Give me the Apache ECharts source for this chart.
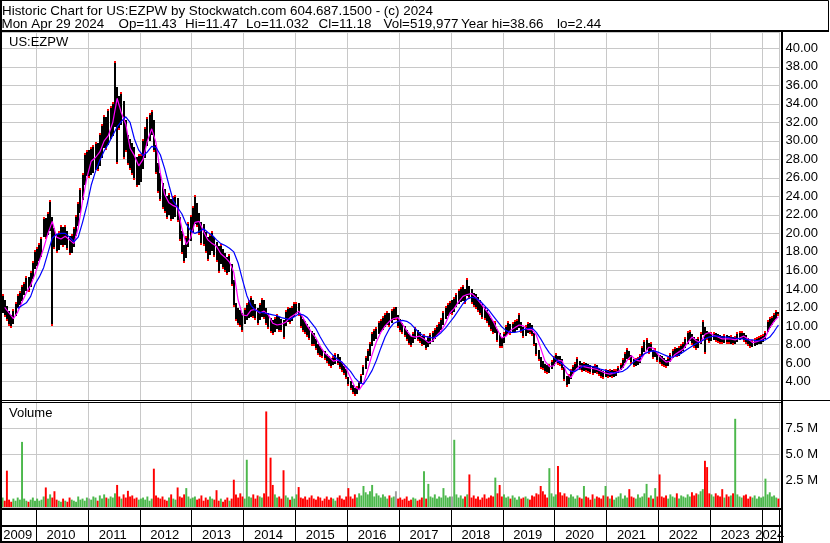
<!DOCTYPE html>
<html><head><meta charset="utf-8">
<script src="https://cdn.jsdelivr.net/npm/echarts@6.0.0/dist/echarts.min.js"></script>
<style>html,body{margin:0;padding:0;background:#fff}#c{width:830px;height:543px}</style>
</head><body><div id="c"></div>
<script>
// ---------- data (semi-monthly periods, May 2009 .. Apr 2024) ----------
const startYear = 2009, startMonth = 5;
const yearLabels = ['2009','2010','2011','2012','2013','2014','2015','2016','2017','2018','2019','2020','2021','2022','2023','2024'];
const headerLine1 = 'Historic Chart for US:EZPW by Stockwatch.com 604.687.1500 - (c) 2024';
const headerFields = ['Mon Apr 29 2024', 'Op=11.43', 'Hi=11.47', 'Lo=11.032', 'Cl=11.18', 'Vol=519,977', 'Year hi=38.66', 'lo=2.44'];
const symbolLabel = 'US:EZPW';
const volumeLabel = 'Volume';

const hi = [
13.4,12.8,12.2,11.6,11.2,11.8,12.6,13.4,13.8,14.4,14.8,15.4,15.3,15.9,17.0,18.2,
18.5,19.0,19.6,21.8,21.7,22.3,23.6,21.8,20.6,19.9,20.3,20.9,20.7,20.9,20.3,19.7,19.9,20.7,22.0,23.4,24.9,26.5,28.7,29.0,
29.0,29.3,29.6,29.9,29.8,30.8,31.8,32.8,32.6,33.4,33.8,34.2,38.66,35.8,34.8,35.3,34.3,32.3,30.6,30.2,29.8,29.3,28.3,28.6,
28.6,30.2,31.5,32.6,33.0,33.3,32.2,29.6,27.6,26.5,25.4,24.8,24.0,24.4,23.7,24.0,24.2,23.8,21.8,20.3,18.7,19.7,21.2,22.0,
23.0,24.2,23.3,22.2,21.2,21.0,20.1,19.6,19.9,20.3,19.6,19.1,18.6,18.9,18.3,17.9,17.5,17.8,16.7,15.0,12.5,11.9,11.7,11.4,
11.9,12.5,12.8,13.2,12.8,12.4,11.9,12.5,13.0,12.8,11.9,11.4,10.9,10.6,11.0,11.3,11.0,10.8,10.6,11.7,12.1,11.9,12.2,12.6,
12.6,12.5,11.2,10.7,10.5,10.2,9.9,9.5,9.2,8.6,8.1,7.8,7.5,7.3,7.0,6.7,6.5,6.8,7.1,7.0,6.6,6.1,5.7,5.3,
4.5,4.0,3.6,3.3,3.5,4.0,4.8,5.8,6.7,7.5,8.3,9.3,9.7,9.9,10.5,10.8,11.1,11.4,11.6,11.4,11.8,12.0,12.0,11.2,
10.7,10.3,10.0,9.6,9.1,8.9,9.4,9.9,9.6,9.4,8.9,9.1,8.5,8.9,9.2,9.5,9.8,10.1,10.4,10.9,11.6,12.2,12.5,12.7,
12.8,13.1,13.6,14.0,14.2,14.4,14.0,15.2,14.3,14.0,13.6,13.4,13.1,12.8,12.4,12.0,11.7,11.3,10.9,10.5,10.5,9.7,9.2,8.8,
9.4,10.1,10.5,10.2,10.4,10.6,10.8,11.4,10.4,9.9,10.1,10.4,10.3,10.1,9.2,8.2,7.4,6.6,6.2,5.9,5.8,5.9,6.3,6.8,
7.1,6.8,6.7,6.4,5.6,4.6,4.8,5.3,5.8,6.1,6.6,6.2,6.0,6.1,6.0,5.9,5.8,5.7,5.9,5.8,5.4,5.2,5.1,5.3,
5.2,5.3,5.2,5.3,5.4,5.7,6.0,6.5,7.2,7.6,7.3,6.9,6.4,6.5,6.6,7.0,7.8,8.5,8.7,8.2,8.3,7.4,7.6,7.1,
6.9,6.7,6.5,6.3,6.6,7.1,7.5,7.7,7.6,7.8,8.0,8.3,8.8,9.5,9.6,9.1,8.8,8.6,8.8,9.3,10.6,9.9,9.5,9.4,
9.3,9.4,9.2,9.1,9.0,8.9,9.1,9.0,8.9,9.0,8.8,8.9,9.3,9.5,9.5,9.2,9.0,8.7,8.4,8.5,8.7,8.8,8.9,9.0,
9.1,9.5,10.6,11.0,11.1,11.4,11.7,11.47
];
const lo = [
11.4,11.0,10.5,10.0,9.8,10.2,11.1,11.9,12.3,12.7,13.3,13.8,13.7,14.2,15.1,16.1,
16.5,17.0,17.5,19.6,19.4,19.8,20.3,10.0,18.3,17.9,18.2,18.7,18.5,18.7,18.2,17.7,17.9,18.5,19.7,20.8,22.2,23.6,25.2,26.2,
26.0,26.3,26.5,26.8,26.7,27.3,28.2,29.2,29.0,29.6,30.2,30.5,31.5,27.5,31.2,31.7,28.0,28.8,27.4,26.9,26.3,25.8,25.0,25.2,
25.5,27.0,28.2,29.4,30.0,30.6,28.8,26.4,24.4,23.5,22.6,22.2,21.6,22.0,21.3,21.6,21.8,21.2,19.2,17.8,16.8,17.3,18.5,19.2,
20.1,21.0,20.7,19.8,18.8,18.6,17.9,17.0,17.7,18.1,17.4,16.9,15.7,16.7,16.1,15.8,15.5,15.8,14.3,12.0,10.5,10.1,9.9,9.3,
10.2,10.6,10.9,11.0,10.9,10.6,10.1,10.6,11.0,10.8,10.1,9.7,9.2,9.0,9.4,9.7,9.4,9.3,8.6,10.0,10.4,10.2,10.5,11.0,
11.3,11.1,9.8,9.3,9.1,8.8,8.5,7.8,7.8,7.4,6.9,6.6,6.5,6.3,6.0,5.7,5.5,5.8,5.9,5.8,5.4,5.0,4.7,4.3,
3.5,3.1,2.7,2.44,2.7,3.1,3.7,4.7,5.4,6.2,6.8,7.8,8.4,8.6,9.1,9.3,9.6,9.9,10.1,9.9,10.3,10.6,10.6,9.8,
9.3,9.1,8.8,8.4,7.9,7.7,8.2,8.6,8.4,8.2,7.8,7.9,7.4,7.7,8.0,8.3,8.6,8.9,9.2,9.6,10.1,10.8,11.1,11.3,
11.2,11.5,12.0,12.4,12.6,12.7,12.4,13.2,12.9,12.4,12.0,11.8,11.5,11.2,10.8,10.6,10.3,9.9,9.5,9.1,9.2,8.3,7.6,7.6,
8.2,8.9,9.1,9.0,9.2,9.4,9.6,9.8,9.2,8.7,8.9,9.2,9.1,8.9,7.8,6.8,6.2,5.4,5.2,4.9,4.8,4.9,5.3,5.7,
6.1,5.8,5.7,5.2,4.0,3.44,3.7,4.3,4.8,5.1,5.5,5.2,5.0,5.1,5.0,4.9,4.8,4.7,4.9,4.8,4.6,4.4,4.3,4.5,
4.4,4.5,4.4,4.5,4.6,4.9,5.2,5.5,6.0,6.4,6.3,5.9,5.6,5.7,5.8,6.0,6.6,7.2,7.4,7.0,7.3,6.4,6.6,6.1,
5.9,5.7,5.6,5.5,5.7,6.1,6.5,6.7,6.6,6.8,7.0,7.3,7.6,8.1,8.4,7.9,7.6,7.4,7.6,8.0,9.0,7.0,8.5,8.2,
8.4,8.5,8.3,8.2,8.1,8.0,8.2,8.1,8.0,8.1,7.9,8.0,8.3,8.5,8.6,8.3,8.1,7.8,7.6,7.7,7.8,7.9,8.0,8.1,
8.3,8.6,9.4,9.8,10.1,10.4,10.7,11.03
];
const cl = [
12.3,11.8,11.3,10.8,10.4,10.9,11.8,12.6,13.0,13.5,14.0,14.6,14.5,15.0,16.0,17.0,
17.5,18.0,18.5,20.7,20.5,21.0,21.8,20.5,19.5,18.8,19.2,19.8,19.5,19.8,19.2,18.6,18.8,19.5,20.8,22.0,23.5,25.0,26.5,27.5,
27.5,27.8,28.0,28.3,28.2,29.0,30.0,31.0,30.8,31.5,32.0,32.3,35.0,34.0,33.0,33.5,32.5,30.5,29.0,28.5,28.0,27.5,26.5,26.8,
27.0,28.5,29.8,31.0,31.5,32.0,30.5,28.0,26.0,25.0,24.0,23.5,22.8,23.2,22.5,22.8,23.0,22.5,20.5,19.0,17.5,18.5,19.8,20.5,
21.5,22.5,22.0,21.0,20.0,19.8,19.0,18.5,18.8,19.2,18.5,18.0,17.5,17.8,17.2,16.8,16.5,16.8,15.5,13.5,11.5,11.0,10.8,10.5,
11.0,11.5,11.8,12.0,11.8,11.5,11.0,11.5,12.0,11.8,11.0,10.5,10.0,9.8,10.2,10.5,10.2,10.0,9.8,10.8,11.2,11.0,11.3,11.8,
12.0,11.8,10.5,10.0,9.8,9.5,9.2,8.8,8.5,8.0,7.5,7.2,7.0,6.8,6.5,6.2,6.0,6.3,6.5,6.4,6.0,5.5,5.2,4.8,
4.0,3.5,3.2,2.9,3.1,3.5,4.2,5.2,6.0,6.8,7.5,8.5,9.0,9.2,9.8,10.0,10.3,10.6,10.8,10.6,11.0,11.3,11.3,10.5,
10.0,9.7,9.4,9.0,8.5,8.3,8.8,9.2,9.0,8.8,8.3,8.5,8.0,8.3,8.6,8.9,9.2,9.5,9.8,10.2,10.8,11.5,11.8,12.0,
12.0,12.3,12.8,13.2,13.4,13.5,13.2,14.0,13.6,13.2,12.8,12.6,12.3,12.0,11.6,11.3,11.0,10.6,10.2,9.8,9.9,9.0,8.5,8.2,
8.8,9.5,9.8,9.6,9.8,10.0,10.2,10.5,9.8,9.3,9.5,9.8,9.7,9.5,8.5,7.5,6.8,6.0,5.7,5.4,5.3,5.4,5.8,6.2,
6.6,6.3,6.2,5.8,4.8,4.0,4.2,4.8,5.3,5.6,6.0,5.7,5.5,5.6,5.5,5.4,5.3,5.2,5.4,5.3,5.0,4.8,4.7,4.9,
4.8,4.9,4.8,4.9,5.0,5.3,5.6,6.0,6.6,7.0,6.8,6.4,6.0,6.1,6.2,6.5,7.2,7.8,8.0,7.6,7.8,6.9,7.1,6.6,
6.4,6.2,6.0,5.9,6.1,6.6,7.0,7.2,7.1,7.3,7.5,7.8,8.2,8.8,9.0,8.5,8.2,8.0,8.2,8.6,9.8,9.3,9.0,8.8,
8.9,9.0,8.8,8.7,8.6,8.5,8.7,8.6,8.5,8.6,8.4,8.5,8.8,9.0,9.1,8.8,8.6,8.3,8.0,8.1,8.3,8.4,8.5,8.6,
8.7,9.0,10.0,10.4,10.6,10.9,11.2,11.18
];
// volume in millions of shares
const vol = [
0.9,0.6,3.46,0.7,0.5,0.8,0.6,0.9,0.7,6.2,0.8,0.6,0.5,0.7,0.9,0.6,
0.8,0.6,0.7,1.0,1.86,0.8,1.2,0.9,1.5,0.7,0.6,0.5,0.8,0.6,0.5,0.9,0.7,0.6,0.5,1.0,0.7,0.8,0.6,0.9,
0.8,0.7,1.0,0.9,0.6,1.1,0.8,1.2,0.9,0.8,1.0,0.9,1.3,2.1,1.0,0.8,1.2,0.9,1.54,1.0,1.1,0.8,0.9,0.7,
0.8,0.9,0.7,1.0,0.6,0.8,3.65,1.1,0.9,0.8,1.0,0.7,0.6,0.9,1.2,0.8,0.7,1.86,1.0,0.9,1.2,1.8,1.0,0.8,
0.9,1.0,0.7,0.8,1.1,0.6,0.9,0.7,1.0,0.8,0.7,1.6,0.6,0.8,0.5,0.7,0.9,0.6,0.8,2.6,1.2,0.9,1.3,1.0,
0.8,4.5,1.0,0.9,1.2,0.8,1.1,1.0,0.9,1.3,9.1,1.0,4.7,2.1,1.2,0.9,1.0,0.8,3.5,1.1,0.9,0.7,1.0,0.8,
1.2,1.9,0.9,0.8,1.0,0.7,0.9,1.1,0.8,0.7,1.0,0.9,0.6,0.8,1.0,0.7,0.9,0.8,0.6,0.9,1.1,0.8,0.7,1.0,
1.8,1.0,0.8,1.2,0.9,1.3,1.1,2.0,1.4,1.2,1.5,2.1,1.0,1.3,1.1,0.9,1.2,1.0,0.8,1.1,0.9,1.0,1.5,0.8,
0.9,0.7,0.8,1.0,0.6,0.7,0.9,0.8,0.6,0.7,0.9,3.4,0.8,2.2,1.0,0.9,1.2,0.8,1.0,0.9,1.8,1.1,0.9,1.0,
1.0,6.4,1.2,0.9,1.1,0.8,1.0,1.2,3.1,0.9,1.1,0.8,1.0,0.7,0.9,1.2,0.8,0.9,1.1,1.0,2.8,1.3,2.1,1.0,
1.2,0.9,1.0,0.8,1.1,0.9,0.7,1.0,0.8,0.9,1.0,0.8,0.7,1.1,1.0,1.3,1.2,2.0,1.5,1.2,0.9,3.7,1.3,1.0,
1.2,3.9,1.4,1.1,1.3,1.0,0.9,1.2,1.0,0.8,1.1,0.9,0.8,2.0,1.0,0.9,0.7,1.2,0.8,1.0,0.9,0.8,1.1,2.0,
1.0,0.8,1.1,0.7,0.9,1.0,1.3,0.8,1.1,0.9,1.7,1.0,0.9,0.8,1.2,0.9,1.0,1.3,2.2,0.9,1.1,0.8,1.8,1.0,
3.1,1.0,0.9,1.1,0.8,1.2,1.0,0.9,1.3,0.8,1.1,1.0,0.9,1.2,1.0,1.4,1.1,1.3,1.2,1.5,1.7,4.4,3.8,1.3,
1.2,1.0,1.3,1.1,1.0,1.7,0.9,1.2,1.0,1.1,1.3,8.4,1.2,1.0,0.9,1.1,1.2,0.8,1.0,0.9,1.1,0.8,1.0,0.9,
1.0,2.7,1.2,1.4,1.0,1.1,0.9,0.8
];
// monthly moving averages (May 2009 .. Apr 2024)
const maShort = [
12.0,11.4,10.8,11.5,12.6,13.6,14.4,15.6,
17.0,18.4,20.0,21.3,19.6,19.4,19.7,19.3,18.9,20.6,23.5,26.0,
27.8,28.2,28.8,30.0,30.6,32.0,34.6,33.0,31.8,29.2,28.4,27.3,
28.0,30.0,31.3,29.8,26.5,24.2,23.3,23.0,22.8,20.5,18.8,19.5,
21.2,21.3,20.2,19.3,18.9,18.6,17.8,17.4,16.9,15.8,12.8,11.2,
11.1,11.7,11.8,11.4,11.6,11.2,10.3,10.1,10.2,10.4,10.9,11.2,
11.6,10.9,10.0,9.3,8.7,7.8,7.1,6.7,6.2,6.3,6.1,5.4,
4.4,3.4,3.1,3.8,5.3,6.9,8.3,9.3,10.0,10.5,10.8,10.9,
10.2,9.5,8.9,8.8,8.9,8.6,8.2,8.4,9.0,9.5,10.3,11.4,
11.9,12.6,13.2,13.4,13.5,13.1,12.5,11.9,11.3,10.5,9.6,8.7,
8.9,9.5,9.8,10.1,10.0,9.6,9.6,9.0,7.6,6.2,5.6,5.7,
6.3,6.2,4.9,4.4,5.2,5.7,5.6,5.5,5.4,5.3,5.1,4.9,
4.8,4.9,5.1,5.5,6.3,6.8,6.3,6.2,7.0,7.7,7.6,7.0,
6.5,6.1,6.2,6.9,7.2,7.5,8.2,8.8,8.4,8.2,9.1,9.3,
9.0,8.8,8.6,8.6,8.6,8.5,8.7,8.9,8.6,8.2,8.3,8.5,
8.8,9.8,10.5,11.0
];
const maLong = [
null,null,null,11.9,12.2,12.5,13.2,14.5,
15.3,16.3,17.9,19.5,19.9,20.0,20.0,19.6,19.1,19.6,21.2,23.0,
25.2,26.7,27.9,28.9,29.7,30.6,31.5,32.1,32.6,32.0,30.2,29.0,
28.4,28.8,29.4,29.3,28.5,27.0,25.2,23.5,22.8,22.1,21.0,20.3,
20.0,20.2,20.5,20.1,19.8,19.3,18.9,18.7,18.4,18.0,16.8,15.0,
13.3,12.2,11.7,11.5,11.4,11.3,11.2,11.1,10.9,10.8,10.7,11.0,
11.3,11.2,10.9,10.3,9.7,8.8,8.0,7.3,6.8,6.4,6.1,5.6,
5.1,4.4,3.9,3.7,4.4,5.2,6.3,7.6,8.8,9.7,10.3,10.5,
10.6,10.5,10.2,9.7,9.2,8.9,8.8,8.7,8.9,9.3,9.8,10.4,
11.0,11.7,12.4,12.9,13.1,13.0,12.7,12.2,11.7,11.1,10.5,9.9,
9.5,9.3,9.3,9.4,9.6,9.7,9.8,9.3,8.6,7.8,7.1,6.6,
6.2,5.9,5.5,5.1,5.1,5.4,5.7,5.7,5.6,5.5,5.3,5.2,
5.0,4.9,5.0,5.1,5.4,5.9,6.3,6.6,7.0,7.2,7.3,7.2,
7.0,6.8,6.6,6.7,6.9,7.2,7.5,7.8,8.1,8.3,8.6,8.8,
8.9,8.9,8.8,8.8,8.7,8.7,8.6,8.6,8.5,8.5,8.4,8.4,
8.5,8.8,9.4,10.1
];

// ---------- build ----------
const cats = [];
for (let i = 0; i < cl.length; i++) {
  const mi = startMonth - 1 + Math.floor(i / 2);
  const y = startYear + Math.floor(mi / 12);
  const m = mi % 12 + 1;
  cats.push(y + '-' + String(m).padStart(2, '0') + (i % 2 ? 'b' : 'a'));
}
const dir = cl.map((c, i) => i === 0 ? 1 : Math.sign(c - cl[i - 1]));
const labelCat = {};
yearLabels.forEach(y => {
  const c = y === '2009' ? '2009-08b' : (y === '2024' ? '2024-02b' : y + '-06b');
  labelCat[c] = y;
});
const isYearStart = (idx, val) => /-01a$/.test(val);
const FONT = 'Liberation Sans';
const GRID = '#c8c8c8';
const GREEN = '#4cb84c', RED = '#ff0000', GRAY = '#a0a0a0';

const priceData = cl.map((c, i) => [i, hi[i], lo[i], dir[i]]);
const volData = vol.map((v, i) => ({ value: v, itemStyle: { color: dir[i] > 0 ? GREEN : (dir[i] < 0 ? RED : GRAY) } }));
const maPts = arr => arr.map((v, m) => v == null ? null : [2 * m + 1, v]).filter(p => p);

const xBase = {
  type: 'category', data: cats, boundaryGap: true,
  axisLine: { show: false }, axisTick: { show: false }, axisLabel: { show: false },
  splitLine: { show: true, interval: isYearStart, lineStyle: { color: GRID, width: 1 } }
};

// text width helper to stretch header text to the reference's GDI-hinted widths
const mctx = document.createElement('canvas').getContext('2d');
mctx.font = '13px "' + FONT + '"';
const fitScale = (text, target) => target / mctx.measureText(text).width;

const gl = (x1, y1, x2, y2, w) => ({ type: 'line', z: 100, silent: true,
  shape: { x1, y1, x2, y2 }, style: { stroke: '#000', lineWidth: w } });
const gt = (x, y, text, sx) => ({ type: 'text', z: 100, x, y, silent: true, scaleX: sx || 1, scaleY: 1,
  style: { text, fill: '#000', font: '13px "' + FONT + '"', fontSize: 13, fontFamily: FONT,
    align: 'left', verticalAlign: 'middle', textAlign: 'left', textVerticalAlign: 'middle' } });

const fieldX = [1.5, 118.5, 185, 246, 318.5, 383.5, 461, 557];
const graphics = [
  { type: 'rect', z: 100, silent: true, shape: { x: 0.5, y: 0.5, width: 828, height: 31 }, style: { fill: 'none', stroke: '#000', lineWidth: 1 } },
  gl(0, 31, 829, 31, 2),
  gl(1, 0, 1, 543, 2),
  gl(782, 31, 782, 543, 2),
  gl(0, 400.5, 830, 400.5, 1),
  gl(0, 402.5, 782, 402.5, 1),
  gl(0, 509, 783, 509, 2),
  gl(0, 526, 783, 526, 2),
  gl(0, 542, 783, 542, 2),
  gt(2, 11, headerLine1, fitScale(headerLine1, 431)),
  gt(9, 42, symbolLabel),
  gt(9, 413, volumeLabel)
];
headerFields.forEach((f, k) => graphics.push(gt(fieldX[k], 24, f, 1.03)));

const chart = echarts.init(document.getElementById('c'), null, { renderer: 'canvas' });
chart.setOption({
  animation: false,
  backgroundColor: '#ffffff',
  textStyle: { fontFamily: FONT },
  grid: [
    { left: 1.5, width: 778, top: 32, height: 368 },
    { left: 1.5, width: 778, top: 402, height: 105 },
    { left: 1.5, width: 778, top: 510, height: 16 }
  ],
  xAxis: [
    Object.assign({ gridIndex: 0 }, xBase),
    Object.assign({ gridIndex: 1 }, xBase),
    {
      gridIndex: 2, type: 'category', data: cats, boundaryGap: true, position: 'bottom',
      axisLine: { show: false },
      axisTick: { show: true, interval: isYearStart, length: 16, inside: false, lineStyle: { color: '#000', width: 1 } },
      splitLine: { show: true, interval: isYearStart, lineStyle: { color: '#000', width: 1 } },
      axisLabel: { show: true, interval: (idx, val) => labelCat[val] !== undefined, formatter: v => labelCat[v] || '',
        margin: 3, fontSize: 13, fontFamily: FONT, color: '#000', lineHeight: 13, hideOverlap: false }
    }
  ],
  yAxis: [
    {
      gridIndex: 0, type: 'value', position: 'right', min: 2, max: 41.76, interval: 2, scale: false,
      axisLine: { show: false }, axisTick: { show: false },
      splitLine: { show: true, lineStyle: { color: GRID, width: 1 } },
      axisLabel: { margin: 6, fontSize: 13, fontFamily: FONT, color: '#000', showMinLabel: false, showMaxLabel: false,
        formatter: v => (v >= 3.99 && v <= 40.01 && Math.abs(v / 2 - Math.round(v / 2)) < 1e-6) ? v.toFixed(2) : '' }
    },
    {
      gridIndex: 1, type: 'value', position: 'right', min: 0, max: 10, interval: 2.5,
      axisLine: { show: false }, axisTick: { show: false },
      splitLine: { show: true, lineStyle: { color: GRID, width: 1 } },
      axisLabel: { margin: 6, fontSize: 13, fontFamily: FONT, color: '#000',
        formatter: v => (v > 0 && v < 10) ? v.toFixed(1) + ' M' : '' }
    },
    { gridIndex: 2, type: 'value', show: false, min: 0, max: 1 }
  ],
  series: [
    {
      type: 'custom', xAxisIndex: 0, yAxisIndex: 0, data: priceData, z: 2,
      encode: { x: 0, y: [1, 2] },
      renderItem: function (params, api) {
        const i = api.value(0);
        const h = api.coord([i, api.value(1)]);
        const l = api.coord([i, api.value(2)]);
        const d = api.value(3);
        const x = Math.round(h[0]) - 1;
        const top = Math.round(h[1]);
        const bot = Math.round(l[1]);
        const ch = [{ type: 'rect', shape: { x: x, y: top, width: 2, height: Math.max(1, bot - top) }, style: { fill: '#000' } }];
        const ry = d > 0 ? top : bot - 2;
        ch.push({ type: 'rect', shape: { x: x, y: ry, width: 2, height: 2 }, style: { fill: '#ff0000' } });
        return { type: 'group', children: ch };
      }
    },
    {
      type: 'line', xAxisIndex: 0, yAxisIndex: 0, data: maPts(maShort), z: 3,
      symbol: 'none', lineStyle: { color: '#ff00ff', width: 1.2 }, itemStyle: { color: '#ff00ff' }
    },
    {
      type: 'line', xAxisIndex: 0, yAxisIndex: 0, data: maPts(maLong), z: 4,
      symbol: 'none', lineStyle: { color: '#0000ff', width: 1.2 }, itemStyle: { color: '#0000ff' }
    },
    {
      type: 'bar', xAxisIndex: 1, yAxisIndex: 1, data: volData, barCategoryGap: '10%', z: 2
    }
  ],
  graphic: graphics
});
</script>
</body></html>
